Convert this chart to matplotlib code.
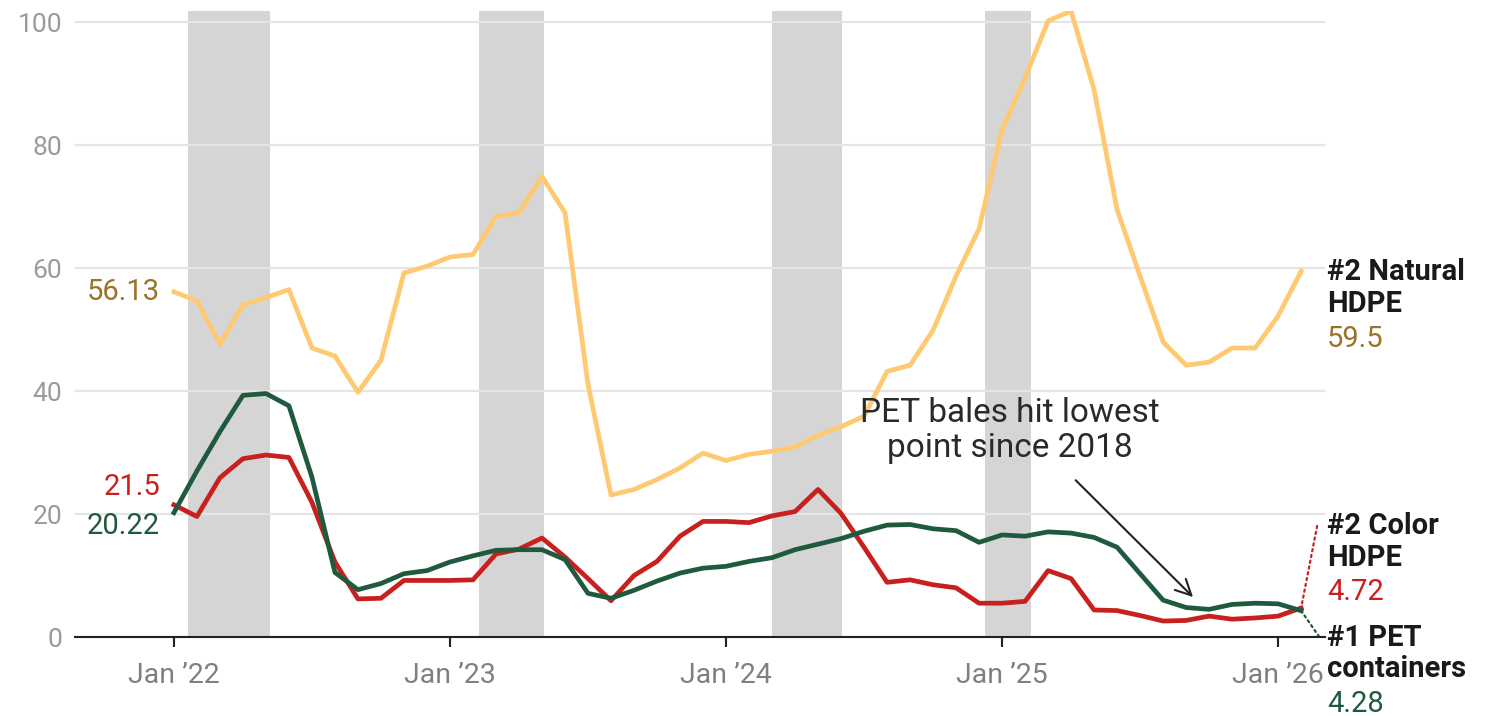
import matplotlib.pyplot as plt
import numpy as np

# monthly prices, Jan 2022 .. Feb 2026 (cents per pound)
natural_hdpe = [56.13, 54.7, 47.6, 54.0, 55.2, 56.5, 47.0, 45.7, 39.8, 45.0, 59.2, 60.3,
                61.8, 62.2, 68.4, 69.0, 74.9, 69.0, 41.1, 23.1, 24.0, 25.6, 27.5, 29.9,
                28.7, 29.7, 30.2, 30.9, 32.8, 34.2, 35.9, 43.2, 44.2, 49.9, 58.7, 66.4,
                82.5, 90.9, 100.2, 101.8, 89.0, 69.5, 58.7, 48.0, 44.2, 44.7, 47.0, 47.0,
                52.2, 59.5]
color_hdpe = [21.5, 19.6, 25.9, 29.0, 29.6, 29.2, 21.9, 12.2, 6.2, 6.3, 9.2, 9.2,
              9.2, 9.3, 13.5, 14.3, 16.1, 13.0, 9.5, 5.9, 10.0, 12.3, 16.4, 18.8,
              18.8, 18.6, 19.7, 20.4, 24.0, 20.1, 14.6, 8.9, 9.3, 8.5, 8.0, 5.5,
              5.5, 5.8, 10.8, 9.5, 4.4, 4.3, 3.5, 2.6, 2.7, 3.4, 2.9, 3.1,
              3.4, 4.72]
pet = [20.22, 27.0, 33.4, 39.3, 39.6, 37.6, 26.0, 10.5, 7.7, 8.7, 10.3, 10.8,
       12.2, 13.2, 14.1, 14.2, 14.2, 12.6, 7.1, 6.3, 7.6, 9.1, 10.4, 11.2,
       11.5, 12.3, 12.9, 14.2, 15.1, 16.0, 17.2, 18.2, 18.3, 17.6, 17.3, 15.4,
       16.6, 16.4, 17.1, 16.9, 16.2, 14.6, 10.3, 6.0, 4.8, 4.5, 5.3, 5.5,
       5.4, 4.28]

# shaded periods, in months after Jan 2022
band_start = [0.62, 13.26, 26.0, 35.26]
band_end = [4.17, 16.09, 29.04, 37.26]

tick_months = [0, 12, 24, 36, 48]
tick_labels = ['Jan \u201922', 'Jan \u201923', 'Jan \u201924', 'Jan \u201925', 'Jan \u201926']
y_ticks = [0, 20, 40, 60, 80, 100]

YELLOW = '#ffc971'
RED = '#c8201f'
GREEN = '#1f5a3e'
GOLD = '#9a7228'

plt.rcParams['font.family'] = ['Roboto', 'DejaVu Sans']

months = np.arange(len(natural_hdpe))

fig = plt.figure(figsize=(14.91, 7.16), dpi=100)
ax = fig.add_axes([0.0503, 0.1103, 0.8384, 0.8743])

for s, e in zip(band_start, band_end):
    ax.axvspan(s, e, color='#d5d5d5', lw=0, zorder=0.2)

ax.set_axisbelow(True)
ax.yaxis.grid(True, color='#e5e5e5', lw=1.6, zorder=0.5)

ax.plot(months, natural_hdpe, color=YELLOW, lw=3.4, zorder=3)
ax.plot(months, color_hdpe, color=RED, lw=3.4, zorder=4)
ax.plot(months, pet, color=GREEN, lw=3.4, zorder=5)

ax.set_xlim(-4.3, 50.04)
ax.set_ylim(0, 101.8)
ax.set_xticks(tick_months)
ax.set_xticklabels(tick_labels)
ax.set_yticks(y_ticks)

for sp in ['left', 'right', 'top']:
    ax.spines[sp].set_visible(False)
ax.spines['bottom'].set_color('#222222')
ax.spines['bottom'].set_linewidth(1.5)
ax.spines['bottom'].set_zorder(6)

ax.tick_params(axis='x', length=7, width=1.5, color='#222222', pad=11,
               labelsize=20.5, labelcolor='#808080')
ax.tick_params(axis='y', length=0, pad=9, labelsize=19, labelcolor='#9a9a9a')

# start values on the left
ax.annotate(f'{natural_hdpe[0]:.2f}', xy=(0, natural_hdpe[0]), xytext=(-14, 0),
            textcoords='offset pixels', ha='right', va='center', fontsize=21, color=GOLD)
ax.annotate(f'{color_hdpe[0]}', xy=(0, color_hdpe[0]), xytext=(-14, 18),
            textcoords='offset pixels', ha='right', va='center', fontsize=21, color=RED)
ax.annotate(f'{pet[0]:.2f}', xy=(0, pet[0]), xytext=(-14, -13),
            textcoords='offset pixels', ha='right', va='center', fontsize=21, color=GREEN)

# end labels on the right
last = months[-1]
ax.annotate('#2 Natural\nHDPE', xy=(last, natural_hdpe[-1]), xytext=(26, -17),
            textcoords='offset pixels', ha='left', va='center', fontsize=21,
            fontweight='bold', color='#1a1a1a', linespacing=1.15, annotation_clip=False)
ax.annotate(f'{natural_hdpe[-1]}', xy=(last, natural_hdpe[-1]), xytext=(26, -68),
            textcoords='offset pixels', ha='left', va='center', fontsize=21,
            color=GOLD, annotation_clip=False)

ax.annotate('#2 Color\nHDPE', xy=(last, color_hdpe[-1]), xytext=(26, 66),
            textcoords='offset pixels', ha='left', va='center', fontsize=21,
            fontweight='bold', color='#1a1a1a', linespacing=1.15, annotation_clip=False)
ax.annotate(f'{color_hdpe[-1]}', xy=(last, color_hdpe[-1]), xytext=(26, 16),
            textcoords='offset pixels', ha='left', va='center', fontsize=21,
            color=RED, annotation_clip=False)
ax.annotate('', xy=(last, color_hdpe[-1]), xytext=(16, 82), textcoords='offset pixels',
            arrowprops=dict(arrowstyle='-', linestyle=':', color=RED, lw=1.6,
                            shrinkA=0, shrinkB=0), annotation_clip=False)

ax.annotate('#1 PET\ncontainers', xy=(last, pet[-1]), xytext=(26, -43),
            textcoords='offset pixels', ha='left', va='center', fontsize=21,
            fontweight='bold', color='#1a1a1a', linespacing=1.15, annotation_clip=False)
ax.annotate(f'{pet[-1]}', xy=(last, pet[-1]), xytext=(26, -93),
            textcoords='offset pixels', ha='left', va='center', fontsize=21,
            color=GREEN, annotation_clip=False)
ax.annotate('', xy=(last, pet[-1]), xytext=(18, -26), textcoords='offset pixels',
            arrowprops=dict(arrowstyle='-', linestyle=':', color=GREEN, lw=1.6,
                            shrinkA=0, shrinkB=0), annotation_clip=False)

# callout
ax.text(36.35, 33.6, 'PET bales hit lowest\npoint since 2018', ha='center', va='center',
        fontsize=24, color='#2a2a2a', linespacing=1.1, zorder=7)
ax.annotate('', xy=(44.3, 6.5), xytext=(39.2, 25.5),
            arrowprops=dict(arrowstyle='->', color='#222222', lw=1.5,
                            mutation_scale=28, shrinkA=0, shrinkB=0), zorder=7)

fig.savefig('out.png', dpi=100)
